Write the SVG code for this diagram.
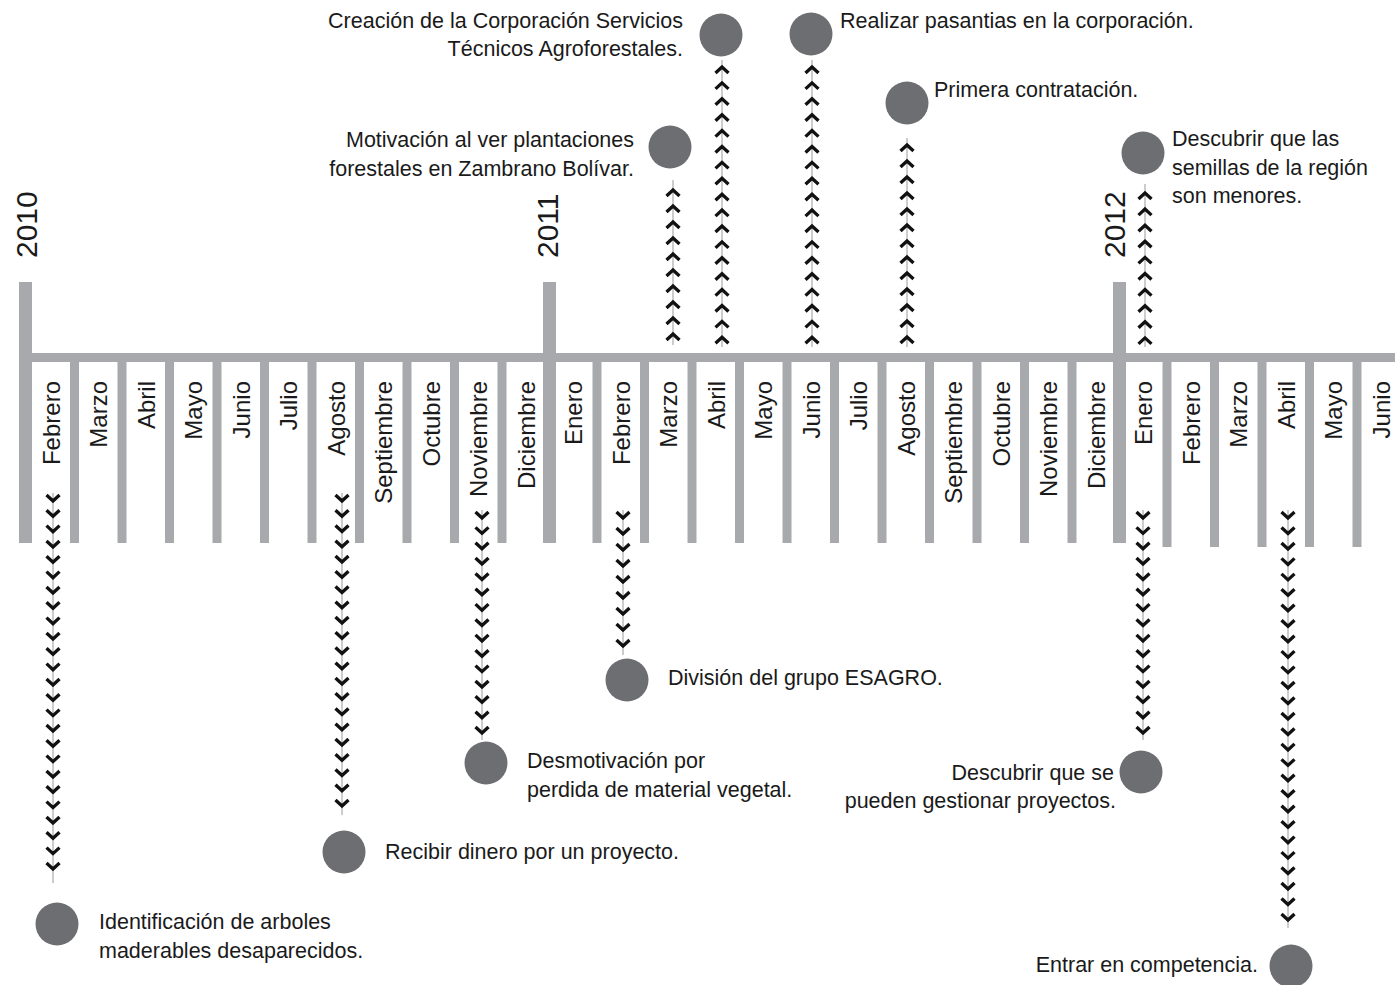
<svg xmlns="http://www.w3.org/2000/svg" width="1395" height="985" viewBox="0 0 1395 985">
<style>
.bar{fill:#a7a9ac}
.dot{fill:#6d6e71}
.m{font-family:"Liberation Sans",Arial,sans-serif;font-size:24px;fill:#1a1a1a;text-anchor:end}
.yr{font-family:"Liberation Sans",Arial,sans-serif;font-size:30px;fill:#1a1a1a}
.t{font-family:"Liberation Sans",Arial,sans-serif;font-size:21.5px;fill:#1a1a1a}
.r{text-anchor:end}
.ln{stroke:#9a9a9a;stroke-width:1;fill:none}
.ch{stroke:#111;stroke-width:3.3;fill:none;stroke-linejoin:miter;stroke-linecap:butt}
</style>
<rect width="1395" height="985" fill="#fff"/>
<g id="timeline">
<rect class="bar" x="19" y="353" width="1376" height="9"/>
<rect class="bar" x="19" y="282" width="13" height="261"/>
<rect class="bar" x="543" y="282" width="13" height="261"/>
<rect class="bar" x="1113" y="282" width="13" height="261"/>
<g class="bar">
<rect x="70" y="353" width="9" height="190"/>
<rect x="117.5" y="353" width="9" height="190"/>
<rect x="165" y="353" width="9" height="190"/>
<rect x="212.5" y="353" width="9" height="190"/>
<rect x="260" y="353" width="9" height="190"/>
<rect x="307.5" y="353" width="9" height="190"/>
<rect x="355" y="353" width="9" height="190"/>
<rect x="402.5" y="353" width="9" height="190"/>
<rect x="450" y="353" width="9" height="190"/>
<rect x="497.5" y="353" width="9" height="190"/>
<rect x="592.5" y="353" width="9" height="190"/>
<rect x="640" y="353" width="9" height="190"/>
<rect x="687.5" y="353" width="9" height="190"/>
<rect x="735" y="353" width="9" height="190"/>
<rect x="782.5" y="353" width="9" height="190"/>
<rect x="830" y="353" width="9" height="190"/>
<rect x="877.5" y="353" width="9" height="190"/>
<rect x="925" y="353" width="9" height="190"/>
<rect x="972.5" y="353" width="9" height="190"/>
<rect x="1020" y="353" width="9" height="190"/>
<rect x="1067.5" y="353" width="9" height="190"/>
<rect x="1162.5" y="353" width="9" height="194"/>
<rect x="1210" y="353" width="9" height="194"/>
<rect x="1257.5" y="353" width="9" height="194"/>
<rect x="1305" y="353" width="9" height="194"/>
<rect x="1352.5" y="353" width="9" height="194"/>
</g>
<text class="yr" transform="translate(37 258) rotate(-90)">2010</text>
<text class="yr" transform="translate(558 258) rotate(-90)">2011</text>
<text class="yr" transform="translate(1125 258) rotate(-90)">2012</text>
<text class="m" transform="translate(59.75 381) rotate(-90)">Febrero</text>
<text class="m" transform="translate(107.25 381) rotate(-90)">Marzo</text>
<text class="m" transform="translate(154.75 381) rotate(-90)">Abril</text>
<text class="m" transform="translate(202.25 381) rotate(-90)">Mayo</text>
<text class="m" transform="translate(249.75 381) rotate(-90)">Junio</text>
<text class="m" transform="translate(297.25 381) rotate(-90)">Julio</text>
<text class="m" transform="translate(344.75 381) rotate(-90)">Agosto</text>
<text class="m" transform="translate(392.25 381) rotate(-90)">Septiembre</text>
<text class="m" transform="translate(439.75 381) rotate(-90)">Octubre</text>
<text class="m" transform="translate(487.25 381) rotate(-90)">Noviembre</text>
<text class="m" transform="translate(534.75 381) rotate(-90)">Diciembre</text>
<text class="m" transform="translate(582.25 381) rotate(-90)">Enero</text>
<text class="m" transform="translate(629.75 381) rotate(-90)">Febrero</text>
<text class="m" transform="translate(677.25 381) rotate(-90)">Marzo</text>
<text class="m" transform="translate(724.75 381) rotate(-90)">Abril</text>
<text class="m" transform="translate(772.25 381) rotate(-90)">Mayo</text>
<text class="m" transform="translate(819.75 381) rotate(-90)">Junio</text>
<text class="m" transform="translate(867.25 381) rotate(-90)">Julio</text>
<text class="m" transform="translate(914.75 381) rotate(-90)">Agosto</text>
<text class="m" transform="translate(962.25 381) rotate(-90)">Septiembre</text>
<text class="m" transform="translate(1009.75 381) rotate(-90)">Octubre</text>
<text class="m" transform="translate(1057.25 381) rotate(-90)">Noviembre</text>
<text class="m" transform="translate(1104.75 381) rotate(-90)">Diciembre</text>
<text class="m" transform="translate(1152.25 381) rotate(-90)">Enero</text>
<text class="m" transform="translate(1199.75 381) rotate(-90)">Febrero</text>
<text class="m" transform="translate(1247.25 381) rotate(-90)">Marzo</text>
<text class="m" transform="translate(1294.75 381) rotate(-90)">Abril</text>
<text class="m" transform="translate(1342.25 381) rotate(-90)">Mayo</text>
<text class="m" transform="translate(1389.75 381) rotate(-90)">Junio</text>
</g>
<g id="connectors">
<path class="ln" d="M53 493V883M342 493V815M482 510V740M623 510V655M1143 510V740M1288 510V928M673 180V345M722 60V347M812 60V347M907 138V347M1145 184V347"/>
<path class="ch" d="M46.5 495l6.5 6 6.5-6m-13 15.33l6.5 6 6.5-6m-13 15.33l6.5 6 6.5-6m-13 15.33l6.5 6 6.5-6m-13 15.33l6.5 6 6.5-6m-13 15.33l6.5 6 6.5-6m-13 15.33l6.5 6 6.5-6m-13 15.33l6.5 6 6.5-6m-13 15.33l6.5 6 6.5-6m-13 15.33l6.5 6 6.5-6m-13 15.33l6.5 6 6.5-6m-13 15.33l6.5 6 6.5-6m-13 15.33l6.5 6 6.5-6m-13 15.33l6.5 6 6.5-6m-13 15.33l6.5 6 6.5-6m-13 15.33l6.5 6 6.5-6m-13 15.33l6.5 6 6.5-6m-13 15.33l6.5 6 6.5-6m-13 15.33l6.5 6 6.5-6m-13 15.33l6.5 6 6.5-6m-13 15.33l6.5 6 6.5-6m-13 15.33l6.5 6 6.5-6m-13 15.33l6.5 6 6.5-6m-13 15.33l6.5 6 6.5-6m-13 15.33l6.5 6 6.5-6"/>
<path class="ch" d="M335.5 495l6.5 6 6.5-6m-13 15.25l6.5 6 6.5-6m-13 15.25l6.5 6 6.5-6m-13 15.25l6.5 6 6.5-6m-13 15.25l6.5 6 6.5-6m-13 15.25l6.5 6 6.5-6m-13 15.25l6.5 6 6.5-6m-13 15.25l6.5 6 6.5-6m-13 15.25l6.5 6 6.5-6m-13 15.25l6.5 6 6.5-6m-13 15.25l6.5 6 6.5-6m-13 15.25l6.5 6 6.5-6m-13 15.25l6.5 6 6.5-6m-13 15.25l6.5 6 6.5-6m-13 15.25l6.5 6 6.5-6m-13 15.25l6.5 6 6.5-6m-13 15.25l6.5 6 6.5-6m-13 15.25l6.5 6 6.5-6m-13 15.25l6.5 6 6.5-6m-13 15.25l6.5 6 6.5-6m-13 15.25l6.5 6 6.5-6"/>
<path class="ch" d="M475.5 512l6.5 6 6.5-6m-13 15.36l6.5 6 6.5-6m-13 15.36l6.5 6 6.5-6m-13 15.36l6.5 6 6.5-6m-13 15.36l6.5 6 6.5-6m-13 15.36l6.5 6 6.5-6m-13 15.36l6.5 6 6.5-6m-13 15.36l6.5 6 6.5-6m-13 15.36l6.5 6 6.5-6m-13 15.36l6.5 6 6.5-6m-13 15.36l6.5 6 6.5-6m-13 15.36l6.5 6 6.5-6m-13 15.36l6.5 6 6.5-6m-13 15.36l6.5 6 6.5-6m-13 15.36l6.5 6 6.5-6"/>
<path class="ch" d="M616.5 512l6.5 6 6.5-6m-13 16l6.5 6 6.5-6m-13 16l6.5 6 6.5-6m-13 16l6.5 6 6.5-6m-13 16l6.5 6 6.5-6m-13 16l6.5 6 6.5-6m-13 16l6.5 6 6.5-6m-13 16l6.5 6 6.5-6m-13 16l6.5 6 6.5-6"/>
<path class="ch" d="M1136.5 512l6.5 6 6.5-6m-13 15.36l6.5 6 6.5-6m-13 15.36l6.5 6 6.5-6m-13 15.36l6.5 6 6.5-6m-13 15.36l6.5 6 6.5-6m-13 15.36l6.5 6 6.5-6m-13 15.36l6.5 6 6.5-6m-13 15.36l6.5 6 6.5-6m-13 15.36l6.5 6 6.5-6m-13 15.36l6.5 6 6.5-6m-13 15.36l6.5 6 6.5-6m-13 15.36l6.5 6 6.5-6m-13 15.36l6.5 6 6.5-6m-13 15.36l6.5 6 6.5-6m-13 15.36l6.5 6 6.5-6"/>
<path class="ch" d="M1281.5 512l6.5 6 6.5-6m-13 15.46l6.5 6 6.5-6m-13 15.46l6.5 6 6.5-6m-13 15.46l6.5 6 6.5-6m-13 15.46l6.5 6 6.5-6m-13 15.46l6.5 6 6.5-6m-13 15.46l6.5 6 6.5-6m-13 15.46l6.5 6 6.5-6m-13 15.46l6.5 6 6.5-6m-13 15.46l6.5 6 6.5-6m-13 15.46l6.5 6 6.5-6m-13 15.46l6.5 6 6.5-6m-13 15.46l6.5 6 6.5-6m-13 15.46l6.5 6 6.5-6m-13 15.46l6.5 6 6.5-6m-13 15.46l6.5 6 6.5-6m-13 15.46l6.5 6 6.5-6m-13 15.46l6.5 6 6.5-6m-13 15.46l6.5 6 6.5-6m-13 15.46l6.5 6 6.5-6m-13 15.46l6.5 6 6.5-6m-13 15.46l6.5 6 6.5-6m-13 15.46l6.5 6 6.5-6m-13 15.46l6.5 6 6.5-6m-13 15.46l6.5 6 6.5-6m-13 15.46l6.5 6 6.5-6m-13 15.46l6.5 6 6.5-6"/>
<path class="ch" d="M666.5 196l6.5-6 6.5 6m-13 16l6.5-6 6.5 6m-13 16l6.5-6 6.5 6m-13 16l6.5-6 6.5 6m-13 16l6.5-6 6.5 6m-13 16l6.5-6 6.5 6m-13 16l6.5-6 6.5 6m-13 16l6.5-6 6.5 6m-13 16l6.5-6 6.5 6m-13 16l6.5-6 6.5 6"/>
<path class="ch" d="M715.5 73l6.5-6 6.5 6m-13 15.9l6.5-6 6.5 6m-13 15.9l6.5-6 6.5 6m-13 15.9l6.5-6 6.5 6m-13 15.9l6.5-6 6.5 6m-13 15.9l6.5-6 6.5 6m-13 15.9l6.5-6 6.5 6m-13 15.9l6.5-6 6.5 6m-13 15.9l6.5-6 6.5 6m-13 15.9l6.5-6 6.5 6m-13 15.9l6.5-6 6.5 6m-13 15.9l6.5-6 6.5 6m-13 15.9l6.5-6 6.5 6m-13 15.9l6.5-6 6.5 6m-13 15.9l6.5-6 6.5 6m-13 15.9l6.5-6 6.5 6m-13 15.9l6.5-6 6.5 6m-13 15.9l6.5-6 6.5 6"/>
<path class="ch" d="M805.5 73l6.5-6 6.5 6m-13 15.9l6.5-6 6.5 6m-13 15.9l6.5-6 6.5 6m-13 15.9l6.5-6 6.5 6m-13 15.9l6.5-6 6.5 6m-13 15.9l6.5-6 6.5 6m-13 15.9l6.5-6 6.5 6m-13 15.9l6.5-6 6.5 6m-13 15.9l6.5-6 6.5 6m-13 15.9l6.5-6 6.5 6m-13 15.9l6.5-6 6.5 6m-13 15.9l6.5-6 6.5 6m-13 15.9l6.5-6 6.5 6m-13 15.9l6.5-6 6.5 6m-13 15.9l6.5-6 6.5 6m-13 15.9l6.5-6 6.5 6m-13 15.9l6.5-6 6.5 6m-13 15.9l6.5-6 6.5 6"/>
<path class="ch" d="M900.5 151l6.5-6 6.5 6m-13 16l6.5-6 6.5 6m-13 16l6.5-6 6.5 6m-13 16l6.5-6 6.5 6m-13 16l6.5-6 6.5 6m-13 16l6.5-6 6.5 6m-13 16l6.5-6 6.5 6m-13 16l6.5-6 6.5 6m-13 16l6.5-6 6.5 6m-13 16l6.5-6 6.5 6m-13 16l6.5-6 6.5 6m-13 16l6.5-6 6.5 6m-13 16l6.5-6 6.5 6"/>
<path class="ch" d="M1138.5 199l6.5-6 6.5 6m-13 16.1l6.5-6 6.5 6m-13 16.1l6.5-6 6.5 6m-13 16.1l6.5-6 6.5 6m-13 16.1l6.5-6 6.5 6m-13 16.1l6.5-6 6.5 6m-13 16.1l6.5-6 6.5 6m-13 16.1l6.5-6 6.5 6m-13 16.1l6.5-6 6.5 6m-13 16.1l6.5-6 6.5 6"/>
</g>
<g id="ev1"><circle class="dot" cx="57" cy="924" r="21.5"/><text class="t" x="99" y="929">Identificación de arboles</text><text class="t" x="99" y="958">maderables desaparecidos.</text></g>
<g id="ev2"><circle class="dot" cx="344" cy="852" r="21.5"/><text class="t" x="385" y="859">Recibir dinero por un proyecto.</text></g>
<g id="ev3"><circle class="dot" cx="486" cy="763" r="21.5"/><text class="t" x="527" y="768">Desmotivación por</text><text class="t" x="527" y="797">perdida de material vegetal.</text></g>
<g id="ev4"><circle class="dot" cx="627" cy="680" r="21.5"/><text class="t" x="668" y="685">División del grupo ESAGRO.</text></g>
<g id="ev5"><circle class="dot" cx="670" cy="147" r="21.5"/><text class="t r" x="634" y="147">Motivación al ver plantaciones</text><text class="t r" x="634" y="176">forestales en Zambrano Bolívar.</text></g>
<g id="ev6"><circle class="dot" cx="721" cy="35" r="21.5"/><text class="t r" x="683" y="28">Creación de la Corporación Servicios</text><text class="t r" x="683" y="56">Técnicos Agroforestales.</text></g>
<g id="ev7"><circle class="dot" cx="811" cy="34" r="21.5"/><text class="t" x="840" y="28">Realizar pasantias en la corporación.</text></g>
<g id="ev8"><circle class="dot" cx="907" cy="103" r="21.5"/><text class="t" x="934" y="97">Primera contratación.</text></g>
<g id="ev9"><circle class="dot" cx="1143" cy="153" r="21.5"/><text class="t" x="1172" y="146">Descubrir que las</text><text class="t" x="1172" y="175">semillas de la región</text><text class="t" x="1172" y="203">son menores.</text></g>
<g id="ev10"><circle class="dot" cx="1141" cy="772" r="21.5"/><text class="t r" x="1114" y="780">Descubrir que se</text><text class="t r" x="1116" y="808">pueden gestionar proyectos.</text></g>
<g id="ev11"><circle class="dot" cx="1291" cy="966" r="21.5"/><text class="t r" x="1258" y="972">Entrar en competencia.</text></g>
</svg>
